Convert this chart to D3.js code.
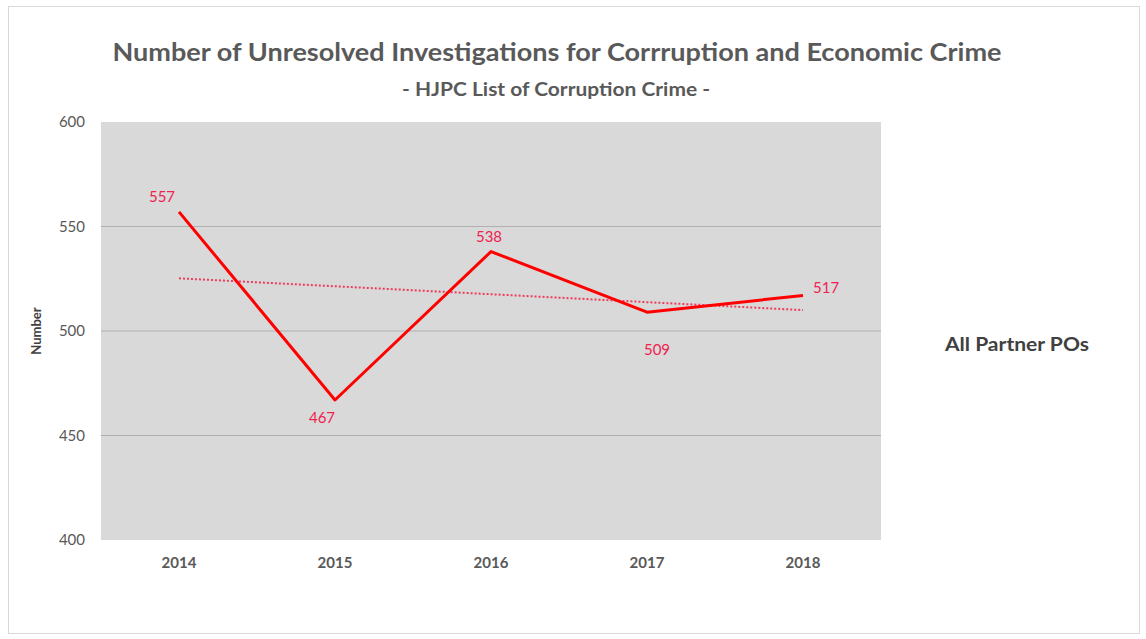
<!DOCTYPE html>
<html>
<head>
<meta charset="utf-8">
<script src="https://cdn.jsdelivr.net/npm/d3@7"></script>
<style>
  html, body { margin: 0; padding: 0; background: #fff; }
  svg { display: block; font-family: Lato, "Open Sans", sans-serif; }
</style>
</head>
<body>
<svg id="chart" width="1146" height="639"></svg>
<script>
// Unresolved corruption / economic crime investigations per year
const years = ["2014", "2015", "2016", "2017", "2018"];
const investigations = [557, 467, 538, 509, 517];
const yTicks = [400, 450, 500, 550, 600];
const seriesName = "All Partner POs";
const titleText = "Number of Unresolved Investigations for Corrruption and Economic Crime";
const subtitleText = "- HJPC List of Corruption Crime -";

const FONT = "Lato, 'Open Sans', sans-serif";
const svg = d3.select("#chart");
const plot = { left: 101, right: 881, top: 122, bottom: 540 };

// Outer chart frame
svg.append("rect")
  .attr("x", 8.5).attr("y", 6.5).attr("width", 1131).attr("height", 627)
  .attr("fill", "#fff").attr("stroke", "#d9d9d9");

const x = d3.scaleBand().domain(years).range([plot.left, plot.right]);
const y = d3.scaleLinear().domain([400, 600]).range([plot.bottom, plot.top]);
const cx = d => x(d) + x.bandwidth() / 2;

// Plot background
svg.append("rect")
  .attr("x", plot.left).attr("y", plot.top)
  .attr("width", plot.right - plot.left).attr("height", plot.bottom - plot.top)
  .attr("fill", "#d9d9d9");

// Gridlines
svg.append("g").selectAll("line")
  .data(yTicks.filter(t => t > 400 && t < 600))
  .join("line")
  .attr("x1", plot.left).attr("x2", plot.right)
  .attr("y1", d => y(d)).attr("y2", d => y(d))
  .attr("stroke", "#b0b0b0").attr("stroke-width", 1);

// Y axis
const yAxis = svg.append("g")
  .attr("transform", `translate(${plot.left},0)`)
  .call(d3.axisLeft(y).tickValues(yTicks).tickSize(0).tickPadding(16))
  .attr("font-family", FONT);
yAxis.select(".domain").remove();
yAxis.selectAll("text")
  .attr("fill", "#595959").attr("font-size", 15);

// X axis
const xAxis = svg.append("g")
  .attr("transform", `translate(0,${plot.bottom})`)
  .call(d3.axisBottom(x).tickSize(0).tickPadding(17))
  .attr("font-family", FONT);
xAxis.select(".domain").remove();
xAxis.selectAll("text")
  .attr("fill", "#595959").attr("font-size", 15).attr("font-weight", "bold");

// Y axis title
svg.append("text")
  .attr("transform", "translate(41,331) rotate(-90)")
  .attr("text-anchor", "middle")
  .attr("fill", "#404040").attr("font-size", 13).attr("font-weight", "bold")
  .text("Number");

// Linear trend line (least squares fit over the series)
const idx = investigations.map((_, i) => i);
const mx = d3.mean(idx), my = d3.mean(investigations);
const slope = d3.sum(idx, i => (i - mx) * (investigations[i] - my)) /
              d3.sum(idx, i => (i - mx) * (i - mx));
const intercept = my - slope * mx;
const trend = [0, years.length - 1].map(i => [cx(years[i]), y(intercept + slope * i)]);
svg.append("path")
  .attr("d", d3.line()(trend))
  .attr("fill", "none")
  .attr("stroke", "#ef3b5c").attr("stroke-width", 2)
  .attr("stroke-dasharray", "2,2");

// Data line
svg.append("path")
  .datum(investigations)
  .attr("d", d3.line().x((d, i) => cx(years[i])).y(d => y(d)))
  .attr("fill", "none")
  .attr("stroke", "#ff0000").attr("stroke-width", 3)
  .attr("stroke-linejoin", "round");

// Data labels
const labelPos = [
  { dx: -17, dy: -10, anchor: "middle" },
  { dx: -13, dy: 23, anchor: "middle" },
  { dx: -2, dy: -10, anchor: "middle" },
  { dx: 10, dy: 43, anchor: "middle" },
  { dx: 10, dy: -2, anchor: "start" }
];
svg.append("g").selectAll("text")
  .data(investigations)
  .join("text")
  .attr("x", (d, i) => cx(years[i]) + labelPos[i].dx)
  .attr("y", (d, i) => y(d) + labelPos[i].dy)
  .attr("text-anchor", (d, i) => labelPos[i].anchor)
  .attr("fill", "#f0224f").attr("font-size", 15)
  .text(d => d);

// Series label
svg.append("text")
  .attr("x", 945).attr("y", 351)
  .attr("fill", "#404040").attr("font-size", 19).attr("font-weight", "bold")
  .attr("textLength", 144).attr("lengthAdjust", "spacingAndGlyphs")
  .text(seriesName);

// Titles
svg.append("text")
  .attr("x", 557).attr("y", 61)
  .attr("text-anchor", "middle")
  .attr("fill", "#595959").attr("font-size", 25).attr("font-weight", "bold")
  .attr("textLength", 889).attr("lengthAdjust", "spacingAndGlyphs")
  .text(titleText);
svg.append("text")
  .attr("x", 556).attr("y", 96)
  .attr("text-anchor", "middle")
  .attr("fill", "#595959").attr("font-size", 18).attr("font-weight", "bold")
  .attr("textLength", 308).attr("lengthAdjust", "spacingAndGlyphs")
  .text(subtitleText);
</script>
</body>
</html>
